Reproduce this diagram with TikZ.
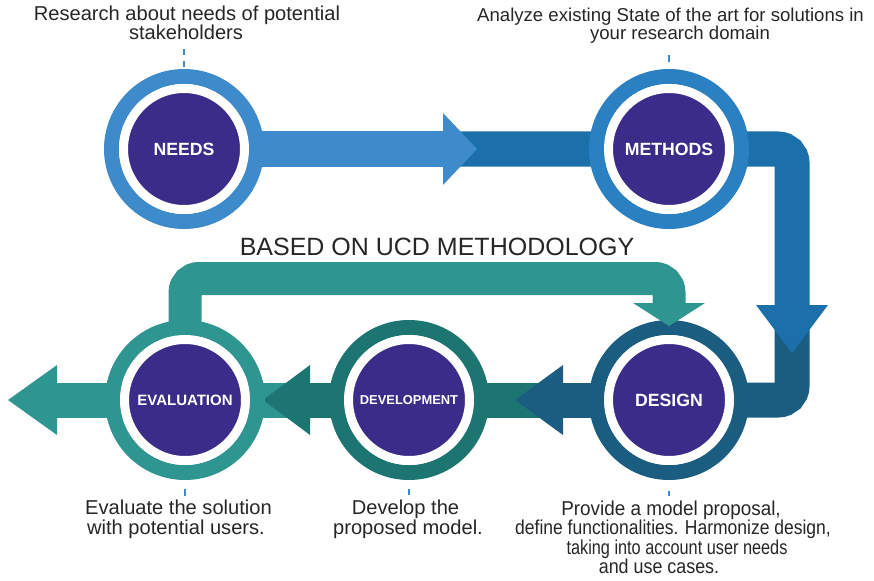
\documentclass[tikz,border=0pt]{standalone}
\usepackage{fontspec}
\setmainfont{Liberation Sans}
\usetikzlibrary{calc}

\definecolor{needsC}{HTML}{3D8BCB}
\definecolor{methRing}{HTML}{2A80C0}
\definecolor{methBand}{HTML}{1C70AA}
\definecolor{desC}{HTML}{1B5D81}
\definecolor{devC}{HTML}{1D7572}
\definecolor{evalC}{HTML}{2F9591}
\definecolor{coreC}{HTML}{3B2C8A}
\definecolor{txtC}{HTML}{262626}

\pgfdeclarelayer{back}
\pgfsetlayers{back,main}

% filled triangular arrow head: colour, base point, tip point, half width
\newcommand\arrowtri[4]{\fill[#1] ($(#2)!#4!90:(#3)$) -- (#3) -- ($(#2)!#4!-90:(#3)$) -- cycle;}

\begin{document}
\begin{tikzpicture}[x=1pt,y=-1pt,
  core/.style={circle, fill=coreC, draw=white, line width=9pt,
    minimum size=121pt, inner sep=0pt, text=white},
  lblA/.style={font=\bfseries\fontsize{17.7}{20}\selectfont},
  ring/.style={line width=15pt},
  band/.style={line width=35pt, line cap=butt, rounded corners=14pt},
  caption/.style={anchor=base, inner sep=0pt, text=txtC,
    font=\fontsize{20.1}{24}\selectfont},
  tick/.style={draw=needsC, line width=1.6pt},
]
\useasboundingbox (0,0) rectangle (874,580);

% the five stages
\node[core, lblA] (needs)   at (184,149) {NEEDS};
\node[core, lblA] (methods) at (669,149) {METHODS};
\node[core, lblA] (design)  at (669,400) {DESIGN};
\node[core, font=\bfseries\fontsize{12.9}{15}\selectfont] (dev) at (409,400) {DEVELOPMENT};
\node[core, font=\bfseries\fontsize{15}{18}\selectfont] (eval) at (185,400) {EVALUATION};

% arrow head positions
\coordinate (nBase) at (443,149); \coordinate (nTip) at (477,149);
\coordinate (mBase) at (792,305); \coordinate (mTip) at (792,353);
\coordinate (dBase) at (563,400); \coordinate (dTip) at (515,400);
\coordinate (vBase) at (310,400); \coordinate (vTip) at (263,400);
\coordinate (eBase) at (57,400);  \coordinate (eTip) at (8,400);
\coordinate (lBase) at (669,303); \coordinate (lTip) at (669,326);

\begin{pgfonlayer}{back}
  % design band coming down the right side
  \draw[band, desC] ($(mBase)+(0,15)$) |- (design.center);
  % methods band and its down arrow
  \draw[band, methBand] ($(nBase)+(7,0)$) -- (methods.center) -| (mBase);
  \arrowtri{methBand}{mBase}{mTip}{36pt}
  % needs arrow
  \draw[band, needsC] (needs.center) -- (nBase);
  \arrowtri{needsC}{nBase}{nTip}{36pt}
  % development band and design arrow
  \draw[band, devC] ($(dBase)+(-18,0)$) -- (dev.center);
  \draw[band, desC] (design.center) -- (dBase);
  \arrowtri{desC}{dBase}{dTip}{35pt}
  % evaluation band and development arrow
  \draw[band, evalC] ($(vBase)+(-10,0)$) -- (eval.center);
  \draw[band, devC] (dev.center) -- (vBase);
  \arrowtri{devC}{vBase}{vTip}{35pt}
  % outgoing evaluation arrow
  \draw[band, evalC] (eval.center) -- (eBase);
  \arrowtri{evalC}{eBase}{eTip}{35pt}
  % feedback loop from evaluation back to design
  \draw[band, evalC, line width=33pt] (eval.center) |- (design.center |- 0,278.5) -- (lBase);
  % rings
  \draw[ring, needsC]   (needs.center)   circle[radius=72.5pt];
  \draw[ring, methRing] (methods.center) circle[radius=72.5pt];
  \draw[ring, desC]     (design.center)  circle[radius=72.5pt];
  \draw[ring, devC]     (dev.center)     circle[radius=72.5pt];
  \draw[ring, evalC]    (eval.center)    circle[radius=72.5pt];
\end{pgfonlayer}

% head of the feedback loop, resting on the design ring
\arrowtri{evalC}{lBase}{lTip}{36pt}

% ticks
\draw[tick, dash pattern=on 6pt off 6pt] ($(needs.center)+(0,-100)$) -- ($(needs.center)+(0,-81)$);
\draw[tick] ($(methods.center)+(0,-94)$) -- ($(methods.center)+(0,-87)$);
\draw[tick] ($(eval.center)+(0,89)$) -- ($(eval.center)+(0,96)$);
\draw[tick] ($(dev.center)+(0,89)$) -- ($(dev.center)+(0,95)$);
\draw[tick] ($(design.center)+(0,91)$) -- ($(design.center)+(0,96)$);

% captions
\node[caption] (tl1) at (187,21) {Research about needs of potential};
\node[caption] (tl2) at (186,40) {stakeholders};
\node[caption, font=\fontsize{18.6}{22}\selectfont] (tr1) at (670.5,22) {Analyze existing State of the art for solutions in};
\node[caption, font=\fontsize{18.6}{22}\selectfont] (tr2) at (680,40) {your research domain};

\node[caption, font=\fontsize{25}{28}\selectfont] (ucd) at (437,255) {BASED ON UCD METHODOLOGY};

\node[caption] (bl1) at (178.5,514) {Evaluate the solution};
\node[caption] (bl2) at (176,534) {with potential users.};
\node[caption] (bm1) at (405.5,514) {Develop the};
\node[caption] (bm2) at (408,534) {proposed model.};
\node[caption] (br1) at (671,515) {\scalebox{0.94}[1]{Provide a model proposal,}};
\node[caption] (br2) at (673,534) {\scalebox{0.87}[1]{define functionalities. Harmonize design,}};
\node[caption] (br3) at (677,554) {\scalebox{0.81}[1]{taking into account user needs}};
\node[caption] (br4) at (659,573) {\scalebox{0.89}[1]{and use cases.}};
\end{tikzpicture}
\end{document}
